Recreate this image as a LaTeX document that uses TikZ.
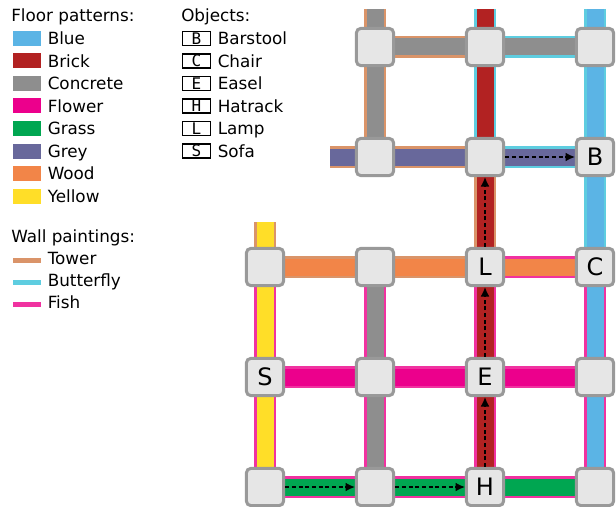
\documentclass[tikz,border=0pt]{standalone}
\usepackage{fontspec}
\setmainfont{DejaVu Sans}
\newfontfamily\boxfont{DejaVu Sans Mono}
\usetikzlibrary{arrows.meta}
\pgfdeclarelayer{bg}
\pgfsetlayers{bg,main}
\definecolor{cBlue}{RGB}{91,180,229}
\definecolor{cBrick}{RGB}{178,34,34}
\definecolor{cConcrete}{RGB}{142,142,142}
\definecolor{cFlower}{RGB}{236,0,140}
\definecolor{cGrass}{RGB}{0,166,81}
\definecolor{cGrey}{RGB}{104,104,155}
\definecolor{cWood}{RGB}{242,133,72}
\definecolor{cYellow}{RGB}{255,222,40}
\definecolor{cTower}{RGB}{218,148,105}
\definecolor{cButterfly}{RGB}{94,205,224}
\definecolor{cFish}{RGB}{240,50,160}
\definecolor{nodefill}{RGB}{230,230,230}
\definecolor{nodeline}{RGB}{153,153,153}
\tikzset{
  room/.style={rectangle, rounded corners=3.5pt, fill=nodefill, draw=nodeline,
    line width=2.25pt, minimum size=28pt, inner sep=0pt,
    font=\fontsize{18}{18}\selectfont},
  flow/.style={draw=black, line width=0.8pt, dash pattern=on 3pt off 2pt,
    -{Latex[length=7pt,width=6.5pt]}},
  legtext/.style={anchor=base west, inner sep=0pt, font=\fontsize{12.6}{14}\selectfont},
  swatch/.style={rectangle, minimum width=21pt, minimum height=11.25pt, inner sep=0pt},
  objbox/.style={rectangle, draw=black, line width=1pt, minimum width=21pt,
    minimum height=10.5pt, inner sep=0pt, font=\boxfont\fontsize{12}{12}\selectfont},
  wallline/.style={line width=3.75pt}
}
\newcommand\corr[4]{%
  \draw[line width=16.1pt, #1] (#3.center) -- (#4.center);
  \draw[line width=12.75pt, #2] (#3.center) -- (#4.center);}
\begin{document}
\begin{tikzpicture}[x=0.75pt,y=-0.75pt]
\useasboundingbox (0,0) rectangle (616,506);

% ---------- legend: floor patterns ----------
\node[legtext] (hfloor) at (11,22) {Floor patterns:};
\foreach \c/\t/\y [count=\i] in {cBlue/Blue/38.5, cBrick/Brick/61, cConcrete/Concrete/83.5,
  cFlower/Flower/106, cGrass/Grass/128.5, cGrey/Grey/151, cWood/Wood/173.5, cYellow/Yellow/196.5}{
  \node[swatch, fill=\c] (sw\i) at (27,\y) {};
  \node[legtext] (swt\i) at (47.5,\y+6.3) {\t};
}
% ---------- legend: wall paintings ----------
\node[legtext] (hwall) at (11,242) {Wall paintings:};
\foreach \c/\t/\y [count=\i] in {cTower/Tower/260, cButterfly/Butterfly/282, cFish/Fish/304}{
  \draw[wallline, \c] (13,\y) -- (41,\y);
  \node[legtext] (wlt\i) at (47.5,\y+4) {\t};
}
% ---------- legend: objects ----------
\node[legtext] (hobj) at (181,22) {Objects:};
\foreach \l/\t/\y [count=\i] in {B/Barstool/38.5, C/Chair/61, E/Easel/83.5,
  H/Hatrack/106, L/Lamp/128.5, S/Sofa/151}{
  \node[objbox] (ob\i) at (196.5,\y) {\l};
  \node[legtext] (obt\i) at (217.5,\y+6.3) {\t};
}

% ---------- rooms ----------
\node[room] (x2y1) at (375,47) {};
\node[room] (x3y1) at (485,47) {};
\node[room] (x4y1) at (595,47) {};
\node[room] (x2y2) at (375,157) {};
\node[room] (x3y2) at (485,157) {};
\node[room] (x4y2) at (595,157) {B};
\node[room] (x1y3) at (265,267) {};
\node[room] (x2y3) at (375,267) {};
\node[room] (x3y3) at (485,267) {L};
\node[room] (x4y3) at (595,267) {C};
\node[room] (x1y4) at (265,377) {S};
\node[room] (x2y4) at (375,377) {};
\node[room] (x3y4) at (485,377) {E};
\node[room] (x4y4) at (595,377) {};
\node[room] (x1y5) at (265,487) {};
\node[room] (x2y5) at (375,487) {};
\node[room] (x3y5) at (485,487) {H};
\node[room] (x4y5) at (595,487) {};

\coordinate (t2) at (375,9);
\coordinate (t3) at (485,9);
\coordinate (t4) at (595,9);
\coordinate (l2) at (330,157);
\coordinate (t1) at (265,222);

% ---------- corridors ----------
\begin{pgfonlayer}{bg}
  % column 2
  \corr{cTower}{cConcrete}{t2}{x2y1}
  \corr{cTower}{cConcrete}{x2y1}{x2y2}
  \corr{cFish}{cConcrete}{x2y3}{x2y4}
  \corr{cFish}{cConcrete}{x2y4}{x2y5}
  % column 3
  \corr{cButterfly}{cBrick}{t3}{x3y1}
  \corr{cButterfly}{cBrick}{x3y1}{x3y2}
  \corr{cTower}{cBrick}{x3y2}{x3y3}
  \corr{cFish}{cBrick}{x3y3}{x3y4}
  \corr{cFish}{cBrick}{x3y4}{x3y5}
  % column 4
  \corr{cButterfly}{cBlue}{t4}{x4y1}
  \corr{cButterfly}{cBlue}{x4y1}{x4y2}
  \corr{cButterfly}{cBlue}{x4y2}{x4y3}
  \corr{cFish}{cBlue}{x4y3}{x4y4}
  \corr{cFish}{cBlue}{x4y4}{x4y5}
  % column 1
  \corr{cTower}{cYellow}{t1}{x1y3}
  \corr{cFish}{cYellow}{x1y3}{x1y4}
  \corr{cFish}{cYellow}{x1y4}{x1y5}
  % row 1
  \corr{cTower}{cConcrete}{x2y1}{x3y1}
  \corr{cButterfly}{cConcrete}{x3y1}{x4y1}
  % row 2
  \corr{cTower}{cGrey}{l2}{x2y2}
  \corr{cTower}{cGrey}{x2y2}{x3y2}
  \corr{cButterfly}{cGrey}{x3y2}{x4y2}
  % row 3
  \corr{cTower}{cWood}{x1y3}{x2y3}
  \corr{cTower}{cWood}{x2y3}{x3y3}
  \corr{cFish}{cWood}{x3y3}{x4y3}
  % row 4
  \corr{cFish}{cFlower}{x1y4}{x2y4}
  \corr{cFish}{cFlower}{x2y4}{x3y4}
  \corr{cFish}{cFlower}{x3y4}{x4y4}
  % row 5
  \corr{cFish}{cGrass}{x1y5}{x2y5}
  \corr{cFish}{cGrass}{x2y5}{x3y5}
  \corr{cFish}{cGrass}{x3y5}{x4y5}
\end{pgfonlayer}

% ---------- path ----------
\draw[flow] (x1y5) -- (x2y5);
\draw[flow] (x2y5) -- (x3y5);
\draw[flow] (x3y5) -- (x3y4);
\draw[flow] (x3y4) -- (x3y3);
\draw[flow] (x3y3) -- (x3y2);
\draw[flow] (x3y2) -- (x4y2);
\end{tikzpicture}
\end{document}
